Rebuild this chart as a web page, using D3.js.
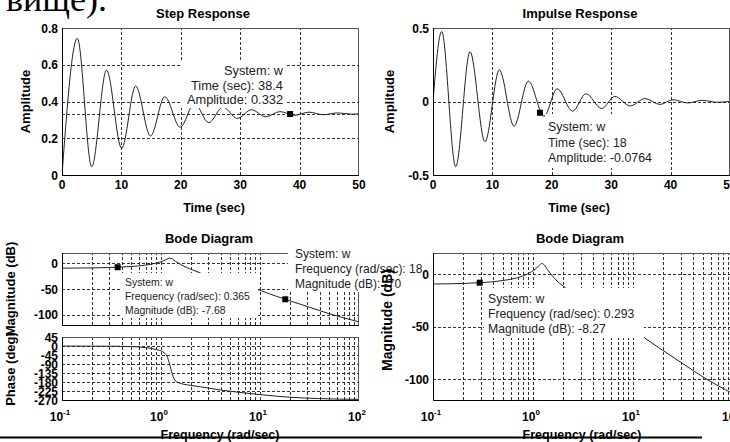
<!DOCTYPE html>
<html><head><meta charset="utf-8">
<script src="https://cdn.jsdelivr.net/npm/d3@7"></script>
<style>body{margin:0;background:#fff}text{font-family:"Liberation Sans",Arial,sans-serif}</style>
</head><body><svg id="c" width="730" height="442"></svg>
<script>
// ---------- DATA ----------
const stepT = [0, 2.58, 5.0, 7.5, 10.05, 12.4, 14.9, 17.3, 19.9, 22.3, 24.7, 27.1, 29.5, 31.9, 34.3, 36.7, 39.1, 41.6, 44.0, 46.4, 48.8, 50];
const stepV = [0, 0.744, 0.045, 0.571, 0.145, 0.484, 0.212, 0.426, 0.26, 0.39, 0.285, 0.37, 0.308, 0.355, 0.317, 0.345, 0.325, 0.342, 0.328, 0.338, 0.331, 0.333];
const stepFinal = 0.333;
const stepXTicks = [0, 10, 20, 30, 40, 50];
const stepYTicks = [0, 0.2, 0.4, 0.6, 0.8];

const impT = [0, 1.46, 3.82, 6.23, 8.75, 11.17, 13.64, 16.05, 18.7, 20.9, 23.5, 25.75, 28.4, 30.6, 33.2, 35.7, 38.2, 40.4, 42.9, 45.3, 47.7, 50];
const impV = [0, 0.476, -0.443, 0.339, -0.274, 0.215, -0.168, 0.139, -0.1, 0.087, -0.066, 0.053, -0.048, 0.035, -0.03, 0.02, -0.02, 0.012, -0.01, 0.008, -0.005, 0];
const impXTicks = [0, 10, 20, 30, 40, 50];
const impYTicks = [-0.5, 0, 0.5];

const bodeW   = [0.1, 0.2, 0.293, 0.365, 0.5, 0.7, 0.9, 1.05, 1.15, 1.22, 1.3, 1.4, 1.6, 1.8, 2.1, 2.5, 3, 4, 5, 7, 9.5, 12.7, 18, 30, 50, 100];
const bodeMag = [-9.5, -9.0, -8.27, -7.68, -6.2, -3.5, 0.5, 4.5, 8, 10, 8.5, 4, -3, -8, -13, -19, -25, -33, -38.5, -45, -51, -60, -70, -84, -98, -114];
const phaseW   = [0.1, 0.3, 0.5, 0.7, 0.9, 1.05, 1.15, 1.22, 1.3, 1.4, 1.6, 2, 2.5, 4, 6, 10, 20, 40, 100];
const phaseDeg = [-0.3, -1, -3, -8, -18, -30, -50, -90, -140, -175, -188, -197, -204, -220, -231, -243, -256, -263, -267];
const magTicks = [0, -50, -100];
const phaseTicks = [45, 0, -45, -90, -135, -180, -225, -270];
const freqDecades = [-1, 0, 1, 2];

const tipStep = {x: 38.4, y: 0.332, lines: ["System: w", "Time (sec): 38.4", "Amplitude: 0.332"]};
const tipImp  = {x: 18, y: -0.0764, lines: ["System: w", "Time (sec): 18", "Amplitude: -0.0764"]};
const tipBodeL1 = {x: 0.365, y: -7.68, lines: ["System: w", "Frequency (rad/sec): 0.365", "Magnitude (dB): -7.68"]};
const tipBodeL2 = {x: 18, y: -70, lines: ["System: w", "Frequency (rad/sec): 18", "Magnitude (dB): -70"]};
const tipBodeR  = {x: 0.293, y: -8.27, lines: ["System: w", "Frequency (rad/sec): 0.293", "Magnitude (dB): -8.27"]};

// ---------- DRAW ----------
const svg = d3.select("#c");
svg.append("rect").attr("width", 730).attr("height", 442).attr("fill", "#fff");
const FONT = 12;
const gridColor = "#333", dash = "3,2", curveColor = "#222";
let clipId = 0;

function clip(x0, y0, x1, y1) {
  const id = "cl" + (clipId++);
  svg.append("clipPath").attr("id", id).append("rect")
    .attr("x", x0).attr("y", y0).attr("width", x1 - x0).attr("height", y1 - y0);
  return "url(#" + id + ")";
}
function hgrid(g, x, y, vals) {
  g.selectAll(null).data(vals).enter().append("line")
    .attr("x1", x.range()[0]).attr("x2", x.range()[1])
    .attr("y1", d => Math.round(y(d)) + 0.5).attr("y2", d => Math.round(y(d)) + 0.5)
    .attr("stroke", gridColor).attr("stroke-dasharray", dash).attr("stroke-width", 1);
}
function vgrid(g, x, y, vals) {
  g.selectAll(null).data(vals).enter().append("line")
    .attr("y1", y.range()[0]).attr("y2", y.range()[1])
    .attr("x1", d => Math.round(x(d)) + 0.5).attr("x2", d => Math.round(x(d)) + 0.5)
    .attr("stroke", gridColor).attr("stroke-dasharray", dash).attr("stroke-width", 1);
}
function frame(x, y) {
  const [xa, xb] = x.range(), [ya, yb] = y.range();
  const g = svg.append("g").attr("fill", "none");
  g.append("rect").attr("x", xa + 0.5).attr("y", yb + 0.5).attr("width", xb - xa - 1).attr("height", ya - yb)
    .attr("stroke", "#555");
  g.append("path").attr("d", `M${xa + 0.5},${yb} V${ya + 0.5} H${xb}`).attr("stroke", "#000");
}
function curve(x, y, xs, ys, cp, curveType) {
  const pts = xs.map((d, i) => [d, ys[i]]);
  svg.append("path").datum(pts).attr("clip-path", cp)
    .attr("d", d3.line().x(d => x(d[0])).y(d => y(d[1])).curve(curveType))
    .attr("fill", "none").attr("stroke", curveColor).attr("stroke-width", 1);
}
function yTicks(x, y, vals, fmt) {
  svg.append("g").selectAll(null).data(vals).enter().append("text")
    .attr("x", x.range()[0] - 4).attr("y", d => y(d) + 4.5)
    .attr("text-anchor", "end").attr("font-size", FONT).attr("font-weight", "bold")
    .text(fmt || (d => d));
}
function xTicksLin(x, y, vals) {
  svg.append("g").selectAll(null).data(vals).enter().append("text")
    .attr("x", d => x(d)).attr("y", y.range()[0] + 13.5)
    .attr("text-anchor", "middle").attr("font-size", FONT).attr("font-weight", "bold")
    .text(d => d);
}
function xTicksLog(x, ybase, exps) {
  const t = svg.append("g").selectAll(null).data(exps).enter().append("text")
    .attr("x", d => x(Math.pow(10, d)) - 2).attr("y", ybase)
    .attr("text-anchor", "middle").attr("font-size", FONT).attr("font-weight", "bold");
  t.append("tspan").text("10");
  t.append("tspan").attr("dy", -6).attr("font-size", 8).text(d => d);
}
function label(x, y, txt, rot, size) {
  svg.append("text").attr("transform", `translate(${x},${y}) rotate(${rot || 0})`)
    .attr("text-anchor", "middle").attr("font-size", size || FONT).attr("font-weight", "bold").text(txt);
}
function tip(x, y, t, box, tx, ty, anchor, size, lh) {
  svg.append("rect").attr("x", box[0]).attr("y", box[1]).attr("width", box[2] - box[0]).attr("height", box[3] - box[1]).attr("fill", "#fff");
  svg.append("rect").attr("x", x(t.x) - 3).attr("y", y(t.y) - 3).attr("width", 6).attr("height", 6).attr("fill", "#000");
  svg.append("g").selectAll(null).data(t.lines).enter().append("text")
    .attr("x", tx).attr("y", (d, i) => ty + i * lh).attr("text-anchor", anchor)
    .attr("font-size", size).attr("fill", "#222").text(d => d);
}

// header fragment of the surrounding document
svg.append("text").attr("x", 6).attr("y", 11)
  .attr("font-size", 36).attr("fill", "#000").style("font-family", "'Liberation Serif','Times New Roman',serif").text("вище).");

// ---- Step response ----
{
  const x = d3.scaleLinear().domain([0, 50]).range([62, 359]);
  const y = d3.scaleLinear().domain([0, 0.8]).range([175, 28]);
  const g = svg.append("g");
  vgrid(g, x, y, stepXTicks.slice(1, -1));
  hgrid(g, x, y, stepYTicks.slice(1, -1).concat([stepFinal]));
  curve(x, y, stepT, stepV, clip(62, 28, 359, 175), d3.curveMonotoneX);
  frame(x, y);
  tip(x, y, tipStep, [180, 61, 286, 108], 283, 75, "end", 12.8, 14.5);
  yTicks(x, y, stepYTicks);
  xTicksLin(x, y, stepXTicks);
  label(203, 18, "Step Response", 0, 13);
  label(214, 212, "Time (sec)", 0, 12.5);
  label(30, 101.5, "Amplitude", -90, 13);
}
// ---- Impulse response ----
{
  const x = d3.scaleLinear().domain([0, 50]).range([433, 730]);
  const y = d3.scaleLinear().domain([-0.5, 0.5]).range([175, 28]);
  const g = svg.append("g");
  vgrid(g, x, y, impXTicks.slice(1, -1));
  hgrid(g, x, y, [0]);
  curve(x, y, impT, impV, clip(433, 28, 730, 175), d3.curveMonotoneX);
  frame(x, y);
  tip(x, y, tipImp, [545, 114, 657, 168], 548, 131, "start", 12.4, 15.5);
  yTicks(x, y, impYTicks);
  xTicksLin(x, y, impXTicks);
  label(580, 18, "Impulse Response", 0, 13);
  label(579, 212, "Time (sec)", 0, 12.5);
  label(394, 101.5, "Amplitude", -90, 13);
}
// minor log grid values
const minorVals = [];
[0.1, 1, 10].forEach(d => { for (let k = 1; k <= 9; k++) if (!(d === 0.1 && k === 1)) minorVals.push(k * d); });

// ---- Bode left ----
{
  const x = d3.scaleLog().domain([0.1, 100]).range([62, 359]);
  const ym = d3.scaleLinear().domain([-120, 20]).range([325, 253]);
  const yp = d3.scaleLinear().domain([-270, 45]).range([400, 337]);
  const g = svg.append("g");
  vgrid(g, x, ym, minorVals);
  vgrid(g, x, yp, minorVals);
  hgrid(g, x, ym, magTicks);
  hgrid(g, x, yp, phaseTicks.slice(1));
  curve(x, ym, bodeW, bodeMag, clip(62, 253, 359, 325), d3.curveMonotoneX);
  curve(x, yp, phaseW, phaseDeg, clip(62, 337, 359, 400), d3.curveMonotoneX);
  frame(x, ym);
  frame(x, yp);
  yTicks(x, ym, magTicks);
  yTicks(x, yp, phaseTicks);
  xTicksLog(x, 421, freqDecades);
  label(209, 243, "Bode Diagram", 0, 13);
  label(15, 289, "Magnitude (dB)", -90, 13);
  label(15, 369, "Phase (deg)", -90, 13);
  label(220, 439, "Frequency  (rad/sec)", 0, 12.5);
  tip(x, ym, tipBodeL1, [122, 273, 258, 318], 125, 285.5, "start", 10.4, 14);
  tip(x, ym, tipBodeL2, [288, 245, 392, 292], 295, 258, "start", 12, 15);
}
// ---- Bode right ----
{
  const x = d3.scaleLog().domain([0.1, 100]).range([433, 733]);
  const ym = d3.scaleLinear().domain([-120, 20]).range([400, 253]);
  const g = svg.append("g");
  const cp = clip(433, 253, 730, 400);
  g.attr("clip-path", cp);
  vgrid(g, x, ym, minorVals);
  hgrid(g, x, ym, magTicks);
  curve(x, ym, bodeW, bodeMag, cp, d3.curveMonotoneX);
  frame(x, ym);
  tip(x, ym, tipBodeR, [484, 288, 644, 338], 488, 302.5, "start", 12.2, 15);
  yTicks(x, ym, magTicks);
  xTicksLog(x, 421, freqDecades);
  label(580, 243, "Bode Diagram", 0, 13);
  label(392, 320, "Magnitude (dB)", -90, 14);
  label(582, 439, "Frequency  (rad/sec)", 0, 12.5);
}
svg.append("line").attr("x1", 0).attr("x2", 702).attr("y1", 437.5).attr("y2", 437.5).attr("stroke", "#000").attr("stroke-width", 2);
</script></body></html>
